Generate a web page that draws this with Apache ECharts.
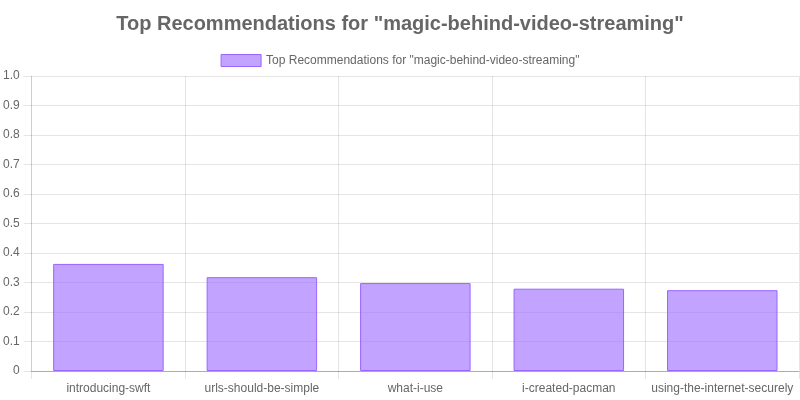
<!DOCTYPE html>
<html><head><meta charset="utf-8">
<script src="https://cdn.jsdelivr.net/npm/echarts@6/dist/echarts.min.js"></script>
<style>html,body{margin:0;padding:0;background:#fff}#c{width:800px;height:400px}</style>
</head><body><div id="c"></div>
<script>
const titleText = 'Top Recommendations for "magic-behind-video-streaming"';
const seriesName = 'Top Recommendations for "magic-behind-video-streaming"';
const categories = ['introducing-swft','urls-should-be-simple','what-i-use','i-created-pacman','using-the-internet-securely'];
const values = [0.363, 0.318, 0.298, 0.279, 0.274];

const chart = echarts.init(document.getElementById('c'));
const font = '"Liberation Sans", Arial, Helvetica, sans-serif';
chart.setOption({
  animation: false,
  textStyle: {fontFamily: font},
  title: {text: titleText, left: 'center', top: 9,
    textStyle: {fontSize: 20, fontWeight: 'bold', color: '#666', fontFamily: font}},
  legend: {top: 49, left: 'center', itemWidth: 40, itemHeight: 12, itemGap: 10,
    icon: 'rect',
    itemStyle: {borderWidth: 1},
    textStyle: {fontSize: 12, color: '#666', fontFamily: font}},
  grid: {left: 31, right: 1, top: 76, bottom: 29, containLabel: false},
  xAxis: {type: 'category', data: categories,
    axisLine: {lineStyle: {color: 'rgba(0,0,0,0.25)'}},
    axisTick: {show: true, interval: 0, length: 8, lineStyle: {color: 'rgba(0,0,0,0.1)'}},
    splitLine: {show: true, interval: 0, lineStyle: {color: 'rgba(0,0,0,0.1)'}},
    axisLabel: {interval: 0, color: '#666', fontSize: 12, margin: 12, fontFamily: font}},
  yAxis: {type: 'value', min: 0, max: 1, interval: 0.1,
    axisLine: {show: true, lineStyle: {color: 'rgba(0,0,0,0.1)'}},
    axisTick: {show: true, length: 8, lineStyle: {color: 'rgba(0,0,0,0.1)'}},
    splitLine: {show: true, lineStyle: {color: 'rgba(0,0,0,0.1)'}},
    axisLabel: {color: '#666', fontSize: 12, margin: 12, fontFamily: font,
      formatter: v => v === 0 ? '0' : v.toFixed(1)}},
  series: [{name: seriesName, type: 'bar', data: values, barCategoryGap: '28%',
    itemStyle: {color: 'rgba(153,102,255,0.6)', borderColor: 'rgb(153,102,255)', borderWidth: 1}}]
});
</script></body></html>
